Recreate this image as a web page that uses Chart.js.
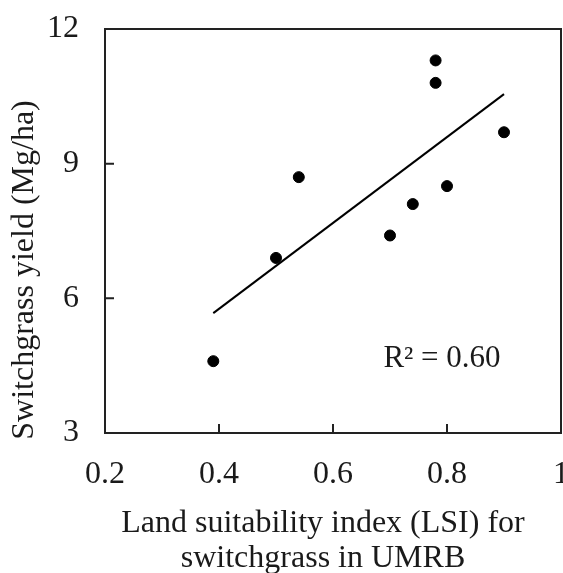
<!DOCTYPE html>
<html>
<head>
<meta charset="utf-8">
<script src="https://cdn.jsdelivr.net/npm/chart.js@4"></script>
<style>
  html, body { margin: 0; padding: 0; background: #fff; }
  canvas { display: block; }
</style>
</head>
<body>
<canvas id="lsiChart" width="563" height="573"></canvas>
<script>
// observed sites: LSI vs yield
const lsiValues = [0.39, 0.50, 0.54, 0.70, 0.74, 0.78, 0.78, 0.80, 0.90];
const yieldValues = [4.6, 6.9, 8.7, 7.4, 8.1, 11.3, 10.8, 8.5, 9.7];

// linear trend line ends
const trendX = [0.39, 0.90];
const trendY = [5.67, 10.55];

const xTickLabels = ["0.2", "0.4", "0.6", "0.8", "1"];
const yTickLabels = ["3", "6", "9", "12"];
const xTitle = ["Land suitability index (LSI) for", "switchgrass in UMRB"];
const yTitle = "Switchgrass yield (Mg/ha)";
const r2Text = "R\u00b2 = 0.60";

const FONT = "'Liberation Serif', 'Times New Roman', serif";
const INK = "#1a1a1a";

// box, inward ticks, titles and R2 label
const framePlugin = {
  id: "frame",
  afterDraw(chart) {
    const { ctx, chartArea: a, scales } = chart;
    ctx.save();
    ctx.strokeStyle = "#222";
    ctx.lineWidth = 2;
    ctx.strokeRect(a.left, a.top, a.right - a.left, a.bottom - a.top);

    ctx.beginPath();
    scales.x.ticks.forEach((t, i) => {
      if (i === 0 || i === scales.x.ticks.length - 1) return;
      const px = scales.x.getPixelForValue(t.value);
      ctx.moveTo(px, a.bottom);
      ctx.lineTo(px, a.bottom - 9);
    });
    scales.y.ticks.forEach((t, i) => {
      if (i === 0 || i === scales.y.ticks.length - 1) return;
      const py = scales.y.getPixelForValue(t.value);
      ctx.moveTo(a.left, py);
      ctx.lineTo(a.left + 9, py);
    });
    ctx.stroke();

    ctx.fillStyle = INK;
    ctx.font = "32px " + FONT;
    ctx.textAlign = "center";
    ctx.textBaseline = "alphabetic";
    ctx.fillText(xTitle[0], 323, 532);
    ctx.fillText(xTitle[1], 323, 567);

    ctx.save();
    ctx.translate(25, 270);
    ctx.rotate(-Math.PI / 2);
    ctx.textBaseline = "middle";
    ctx.fillText(yTitle, 0, 0);
    ctx.restore();

    ctx.font = "31px " + FONT;
    ctx.textAlign = "center";
    ctx.textBaseline = "alphabetic";
    ctx.fillText(r2Text, 442, 367);
    ctx.restore();
  }
};

new Chart(document.getElementById("lsiChart"), {
  type: "scatter",
  data: {
    datasets: [
      {
        label: "Sites",
        data: lsiValues.map((x, i) => ({ x, y: yieldValues[i] })),
        backgroundColor: "#000",
        borderColor: "#000",
        pointRadius: 5.5,
        pointHoverRadius: 5.5
      },
      {
        label: "Linear trend",
        type: "line",
        data: trendX.map((x, i) => ({ x, y: trendY[i] })),
        borderColor: "#000",
        borderWidth: 2,
        pointRadius: 0,
        fill: false
      }
    ]
  },
  options: {
    responsive: false,
    animation: false,
    layout: { autoPadding: false, padding: { top: 29, right: 2, left: 0, bottom: 0 } },
    plugins: {
      legend: { display: false },
      tooltip: { enabled: false }
    },
    scales: {
      x: {
        type: "linear",
        min: 0.2,
        max: 1,
        grid: { display: false, drawTicks: false },
        border: { display: false },
        ticks: {
          stepSize: 0.2,
          padding: 22,
          color: INK,
          font: { family: FONT, size: 32 },
          maxRotation: 0,
          autoSkip: false,
          callback: (v, i) => xTickLabels[i]
        },
        afterFit: s => { s.height = 140; s.paddingLeft = 0; s.paddingRight = 0; }
      },
      y: {
        min: 3,
        max: 12,
        grid: { display: false, drawTicks: false },
        border: { display: false },
        ticks: {
          stepSize: 3,
          padding: 26,
          color: INK,
          font: { family: FONT, size: 32 },
          callback: (v, i) => yTickLabels[i]
        },
        afterFit: s => { s.width = 105; s.paddingTop = 0; s.paddingBottom = 0; }
      }
    }
  },
  plugins: [framePlugin]
});
</script>
</body>
</html>
